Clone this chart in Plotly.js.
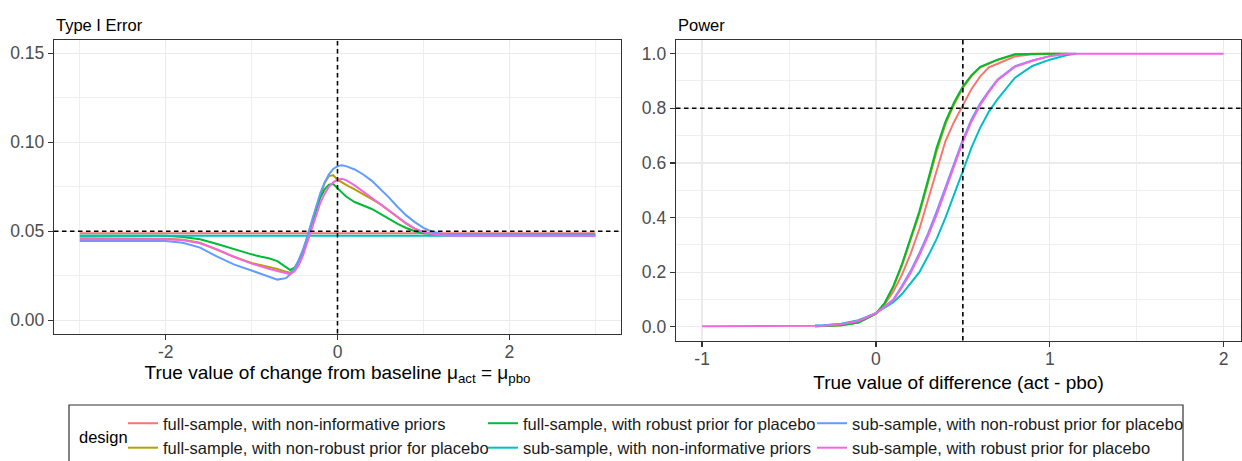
<!DOCTYPE html>
<html><head><meta charset="utf-8">
<script src="https://cdn.plot.ly/plotly-3.0.1.min.js"></script>
<style>html,body{margin:0;padding:0;background:#fff}#chart{width:1242px;height:461px}</style>
</head><body><div id="chart"></div>
<script>
// ---------- data ----------
const designs = [
  "full-sample, with non-informative priors",
  "full-sample, with non-robust prior for placebo",
  "full-sample, with robust prior for placebo",
  "sub-sample, with non-informative priors",
  "sub-sample, with non-robust prior for placebo",
  "sub-sample, with robust prior for placebo"
];

// Type I error panel: x = true change from baseline (mu_act = mu_pbo)
const t1_x = [-3, -2.5, -2, -1.8, -1.6, -1.4, -1.2, -1.0, -0.9, -0.8, -0.7, -0.6, -0.55, -0.5, -0.45, -0.4, -0.35, -0.3, -0.25, -0.2, -0.15, -0.1, -0.05, 0, 0.05, 0.1, 0.2, 0.3, 0.4, 0.5, 0.6, 0.7, 0.8, 0.9, 1.0, 1.1, 1.2, 1.4, 2, 2.5, 3];
const t1_full_noninf = [0.0489,0.0489,0.0489,0.0489,0.0489,0.0489,0.0489,0.0489,0.0489,0.0489,0.0489,0.0489,0.0489,0.0489,0.0489,0.0489,0.0489,0.0489,0.0489,0.0489,0.0489,0.0489,0.0489,0.0489,0.0489,0.0489,0.0489,0.0489,0.0489,0.0489,0.0489,0.0489,0.0489,0.0489,0.0489,0.0489,0.0489,0.0489,0.0489,0.0489,0.0489];
const t1_full_nonrobust = [0.046,0.046,0.0458,0.0452,0.0435,0.0395,0.0355,0.0322, 0.031,0.0302,0.0288,0.0272,0.0266,0.0285,0.033,0.039,0.0465,0.055, 0.063,0.0705,0.077,0.081,0.0815,0.079,0.0775,0.076, 0.0735,0.0705,0.068,0.0652,0.0615,0.0577,0.0543,0.0513,0.0496,0.0486,0.0481, 0.048,0.048,0.048,0.048];
const t1_full_robust = [0.0475,0.0475,0.0474,0.0468,0.0455,0.0428,0.0397,0.037, 0.0358,0.0348,0.0332,0.0296,0.0282,0.0295,0.0335,0.039,0.0465,0.0545, 0.0625,0.069,0.0735,0.0762,0.0765,0.0742,0.0715,0.0695, 0.0664,0.0645,0.0625,0.0598,0.0568,0.0541,0.0518,0.05,0.0489,0.0483,0.0481, 0.048,0.048,0.048,0.048];
const t1_sub_noninf = [0.0474,0.0474,0.0474,0.0474,0.0474,0.0474,0.0474,0.0474,0.0474,0.0474,0.0474,0.0474,0.0474,0.0474,0.0474,0.0474,0.0474,0.0474,0.0474,0.0474,0.0474,0.0474,0.0474,0.0474,0.0474,0.0474,0.0474,0.0474,0.0474,0.0474,0.0474,0.0474,0.0474,0.0474,0.0474,0.0474,0.0474,0.0474,0.0474,0.0474,0.0474];
const t1_sub_nonrobust = [0.0445,0.0446,0.0445,0.0435,0.0408,0.0357,0.0312,0.0279, 0.0263,0.0247,0.0228,0.0236,0.0258,0.029,0.034,0.040,0.047,0.0555, 0.064,0.0715,0.0775,0.082,0.085,0.0866,0.0871,0.0866, 0.0847,0.0819,0.0783,0.0736,0.0689,0.0636,0.0589,0.0551,0.0519,0.0497,0.0486, 0.048,0.0478,0.0478,0.0478];
const t1_sub_robust = [0.0455,0.0455,0.0455,0.045,0.0432,0.0398,0.0355,0.0318, 0.0302,0.0289,0.0276,0.0262,0.0259,0.0275,0.031,0.0365,0.044,0.052, 0.0595,0.066,0.071,0.075,0.0775,0.079,0.0795,0.0787, 0.0758,0.0722,0.0686,0.0651,0.0615,0.0578,0.0545,0.0515,0.0495,0.0484,0.0478, 0.0475,0.0475,0.0475,0.0475];

// Power panel: x = true difference (act - pbo)
const pw_x = [-1, -0.6, -0.35, -0.3, -0.2, -0.1, 0, 0.05, 0.1, 0.15, 0.2, 0.25, 0.3, 0.35, 0.4, 0.45, 0.5, 0.55, 0.6, 0.65, 0.7, 0.8, 0.9, 1.0, 1.1, 1.15, 1.5, 2];
const pw_full_noninf = [null,null,0.002,0.003,0.007,0.018,0.05, 0.082,0.129,0.191,0.268,0.358,0.464,0.577,0.68,0.751,0.814, 0.871,0.917,0.95,0.963,0.99,0.998,1.0,null,null, null,null];
const pw_full_nonrobust = [null,null,0.002,0.003,0.006,0.016,0.048, 0.085,0.145,0.225,0.317,0.415,0.528,0.645,0.742,0.815,0.875, 0.918,0.95,0.964,0.977,0.997,1.0,1.0,1.0,null, null,null];
const pw_full_robust = [null,null,0.002,0.003,0.006,0.016,0.048, 0.087,0.149,0.23,0.323,0.423,0.538,0.657,0.751,0.822,0.88, 0.921,0.952,0.965,0.978,0.998,1.0,1.0,1.0,null, null,null];
const pw_sub_noninf = [null,null,0.005,0.006,0.011,0.024,0.05, 0.07,0.09,0.12,0.16,0.2,0.259,0.323,0.4,0.483,0.57, 0.657,0.729,0.788,0.834,0.912,0.955,0.978,0.995,1.0, null,null];
const pw_sub_nonrobust = [null,null,0.004,0.005,0.01,0.022,0.05, 0.075,0.1,0.15,0.205,0.27,0.342,0.424,0.512,0.6,0.685, 0.76,0.818,0.864,0.906,0.954,0.975,0.991,1.0,1.0, null,null];
const pw_sub_robust = [0.002,0.002,0.003,0.004,0.009,0.021,0.05, 0.073,0.097,0.145,0.198,0.262,0.333,0.412,0.5,0.59,0.677, 0.752,0.812,0.86,0.903,0.952,0.974,0.991,1.0,1.0, 1.0,1.0];

// tick labels
const t1_xticks = [-2, 0, 2];
const t1_xticklabels = ["-2", "0", "2"];
const t1_yticks = [0, 0.05, 0.10, 0.15];
const t1_yticklabels = ["0.00", "0.05", "0.10", "0.15"];
const pw_xticks = [-1, 0, 1, 2];
const pw_xticklabels = ["-1", "0", "1", "2"];
const pw_yticks = [0, 0.2, 0.4, 0.6, 0.8, 1.0];
const pw_yticklabels = ["0.0", "0.2", "0.4", "0.6", "0.8", "1.0"];

// reference levels
const alphaLevel = 0.05, nullDiff = 0, powerTarget = 0.8, targetDiff = 0.5;

// ---------- styling ----------
const FONT = "Liberation Sans, Arial, sans-serif";
const colors = ["#F8766D", "#B79F00", "#00BA38", "#00BFC4", "#619CFF", "#F564E3"];
const legendIds = ["legend", "legend", "legend2", "legend2", "legend3", "legend3"];
const t1Series = [t1_full_noninf, t1_full_nonrobust, t1_full_robust, t1_sub_noninf, t1_sub_nonrobust, t1_sub_robust];
const pwSeries = [pw_full_noninf, pw_full_nonrobust, pw_full_robust, pw_sub_noninf, pw_sub_nonrobust, pw_sub_robust];

const traces = [];
designs.forEach((name, i) => {
  traces.push({x: t1_x, y: t1Series[i], type: "scatter", mode: "lines", name: name,
    legendgroup: name, legend: legendIds[i], showlegend: true,
    line: {color: colors[i], width: 2}, xaxis: "x", yaxis: "y", hoverinfo: "skip"});
});
designs.forEach((name, i) => {
  traces.push({x: pw_x, y: pwSeries[i], type: "scatter", mode: "lines", name: name,
    legendgroup: name, showlegend: false, connectgaps: false,
    line: {color: colors[i], width: 2}, xaxis: "x2", yaxis: "y2", hoverinfo: "skip"});
});

const W = 1242, H = 461;
const px = v => v / W, py = v => 1 - v / H;

function axisBase(extra) {
  return Object.assign({
    showline: true, mirror: true, linecolor: "#333333", linewidth: 1.3,
    ticks: "outside", ticklen: 5, tickwidth: 1.2, tickcolor: "#333333",
    showgrid: true, gridcolor: "#EBEBEB", gridwidth: 1.3, zeroline: false,
    tickfont: {family: FONT, size: 17.5, color: "#4D4D4D"}, fixedrange: true
  }, extra);
}

function legendBox(xpx) {
  return {orientation: "v", x: px(xpx), xanchor: "left", y: py(406), yanchor: "top",
    bgcolor: "rgba(0,0,0,0)", borderwidth: 0, tracegroupgap: 2, itemwidth: 30,
    font: {family: FONT, size: 16.5, color: "#1A1A1A"}, traceorder: "normal"};
}

const dash = {color: "#000000", width: 1.6, dash: "4.5px,3.5px"};

const layout = {
  width: W, height: H, margin: {l: 0, r: 0, t: 0, b: 0, autoexpand: false},
  paper_bgcolor: "#ffffff", plot_bgcolor: "#ffffff",
  font: {family: FONT},
  xaxis: axisBase({domain: [px(54), px(621)], range: [-3.3, 3.3], anchor: "y",
    tickmode: "array", tickvals: t1_xticks, ticktext: t1_xticklabels, ticklabelstandoff: -3,
    minor: {tickmode: "linear", tick0: 1, dtick: 2, showgrid: true, gridcolor: "#EBEBEB", gridwidth: 0.8, ticks: ""},
    title: {text: "True value of change from baseline μ<sub>act</sub> = μ<sub>pbo</sub>", font: {family: FONT, size: 19, color: "#000"}, standoff: 5}}),
  yaxis: axisBase({domain: [py(333.5), py(40)], range: [-0.0075, 0.1575], anchor: "x",
    tickmode: "array", tickvals: t1_yticks, ticktext: t1_yticklabels,
    minor: {tickmode: "linear", tick0: 0.025, dtick: 0.05, showgrid: true, gridcolor: "#EBEBEB", gridwidth: 0.8, ticks: ""}}),
  xaxis2: axisBase({domain: [px(676), px(1241)], range: [-1.15, 2.1], anchor: "y2",
    tickmode: "array", tickvals: pw_xticks, ticktext: pw_xticklabels, ticklabelstandoff: -3,
    minor: {tickmode: "linear", tick0: 0.5, dtick: 1, showgrid: true, gridcolor: "#EBEBEB", gridwidth: 0.8, ticks: ""},
    title: {text: "True value of difference (act - pbo)", font: {family: FONT, size: 19, color: "#000"}, standoff: 8}}),
  yaxis2: axisBase({domain: [py(340.5), py(40)], range: [-0.05, 1.05], anchor: "x2",
    tickmode: "array", tickvals: pw_yticks, ticktext: pw_yticklabels,
    minor: {tickmode: "linear", tick0: 0.1, dtick: 0.2, showgrid: true, gridcolor: "#EBEBEB", gridwidth: 0.8, ticks: ""}}),
  shapes: [
    {type: "line", xref: "x", yref: "y domain", x0: nullDiff, x1: nullDiff, y0: 0, y1: 1, line: dash},
    {type: "line", xref: "x domain", yref: "y", x0: 0, x1: 1, y0: alphaLevel, y1: alphaLevel, line: dash},
    {type: "line", xref: "x2", yref: "y2 domain", x0: targetDiff, x1: targetDiff, y0: 0, y1: 1, line: dash},
    {type: "line", xref: "x2 domain", yref: "y2", x0: 0, x1: 1, y0: powerTarget, y1: powerTarget, line: dash},
    {type: "rect", xref: "paper", yref: "paper", x0: px(69), x1: px(1183), y0: py(405), y1: py(475),
      line: {color: "#333333", width: 1.2}, fillcolor: "rgba(0,0,0,0)"}
  ],
  annotations: [
    {text: "Type I Error", xref: "paper", yref: "paper", x: px(54), y: py(25), xanchor: "left", yanchor: "middle",
      showarrow: false, font: {family: FONT, size: 16.5, color: "#000"}},
    {text: "Power", xref: "paper", yref: "paper", x: px(676), y: py(25), xanchor: "left", yanchor: "middle",
      showarrow: false, font: {family: FONT, size: 16.5, color: "#000"}},
    {text: "design", xref: "paper", yref: "paper", x: px(77), y: py(437), xanchor: "left", yanchor: "middle",
      showarrow: false, font: {family: FONT, size: 16.5, color: "#000"}}
  ],
  legend: legendBox(123),
  legend2: legendBox(483),
  legend3: legendBox(812)
};

Plotly.newPlot("chart", traces, layout, {displayModeBar: false, staticPlot: true});
</script></body></html>
